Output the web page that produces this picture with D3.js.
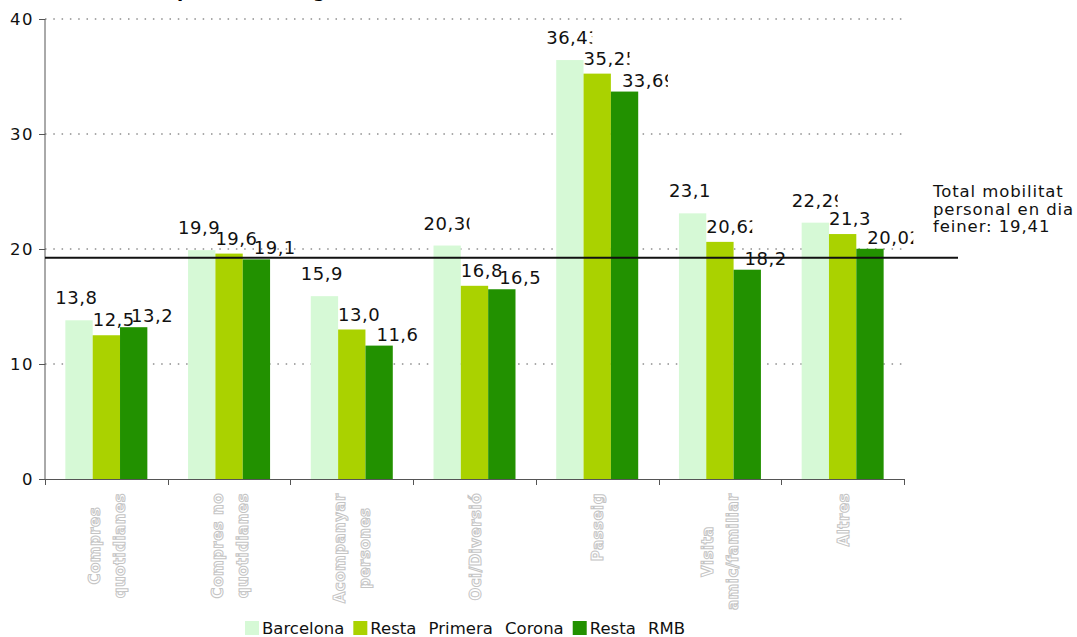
<!DOCTYPE html>
<html>
<head>
<meta charset="utf-8">
<script src="https://cdn.jsdelivr.net/npm/d3@7"></script>
<style>
  html, body { margin: 0; padding: 0; background: #fff; }
  svg { display: block; }
</style>
</head>
<body>
<svg id="chart" width="1077" height="637"></svg>
<script>
// ---------- DATA ----------
const categories = ["Compres quotidianes", "Compres no quotidianes", "Acompanyar persones", "Oci/Diversió", "Passeig", "Visita amic/familiar", "Altres"];
const seriesNames = ["Barcelona", "Resta Primera Corona", "Resta RMB"];
const barcelona = [13.8, 19.9, 15.9, 20.3, 36.43, 23.1, 22.29];
const restaPrimeraCorona = [12.5, 19.6, 13.0, 16.8, 35.25, 20.62, 21.3];
const restaRMB = [13.2, 19.1, 11.6, 16.5, 33.69, 18.2, 20.02];
const labelsBarcelona = ["13,8", "19,9", "15,9", "20,30", "36,43", "23,1", "22,29"];
const labelsRestaPrimeraCorona = ["12,5", "19,6", "13,0", "16,8", "35,25", "20,62", "21,3"];
const labelsRestaRMB = ["13,2", "19,1", "11,6", "16,5", "33,69", "18,2", "20,02"];
const totalMobility = 19.41;
const totalLabel = ["Total mobilitat", "personal en dia", "feiner: 19,41"];
const yTicks = [0, 10, 20, 30, 40];
const titleText = "Temps total segons motiu";

// ---------- STYLE ----------
const colors = ["#d6f9d6", "#aad200", "#229100"];
const labelDx = [-10, 0, 11];
const labelGap = [16, 9, 5];
const FONT = "DejaVu Sans, Verdana, sans-serif";

const svg = d3.select("#chart");
const plotLeft = 45, plotRight = 904, plotTop = 19, plotBottom = 479;

const seriesValues = [barcelona, restaPrimeraCorona, restaRMB];
const seriesLabels = [labelsBarcelona, labelsRestaPrimeraCorona, labelsRestaRMB];

const x0 = d3.scaleBand().domain(categories).range([plotLeft, plotRight]).padding(0);
const x1 = d3.scaleBand().domain(seriesNames).range([0, x0.bandwidth()]).paddingInner(0).paddingOuter(0.745);
const y = d3.scaleLinear().domain([0, 40]).range([plotBottom, plotTop]);

// title (mostly above the top edge: only descenders show)
const title = svg.append("text")
  .attr("x", 0).attr("y", -3)
  .attr("font-family", FONT).attr("font-weight", "bold")
  .attr("font-size", 18).attr("letter-spacing", 0)
  .attr("fill", "#000").text(titleText);
{
  const n = title.node();
  const iP = titleText.indexOf("p"), iG = titleText.indexOf("g");
  const pP = n.getStartPositionOfChar(iP).x, pG = n.getStartPositionOfChar(iG).x;
  const ls = (136 - (pG - pP)) / (iG - iP);
  title.attr("letter-spacing", ls);
  const pP2 = n.getStartPositionOfChar(iP).x;
  title.attr("x", 177 - pP2);
}

// gridlines
svg.append("g").selectAll("line")
  .data(yTicks.filter(d => d > 0))
  .join("line")
  .attr("x1", plotLeft).attr("x2", plotRight)
  .attr("y1", d => y(d)).attr("y2", d => y(d))
  .attr("stroke", "#555").attr("stroke-width", 1)
  .attr("stroke-dasharray", "1.5,6.8");

// bars
const groups = svg.append("g").selectAll("g")
  .data(categories)
  .join("g")
  .attr("transform", d => `translate(${x0(d)},0)`);

groups.selectAll("rect")
  .data((c, i) => seriesNames.map((s, k) => ({ s, k, v: seriesValues[k][i] })))
  .join("rect")
  .attr("x", d => x1(d.s))
  .attr("width", x1.bandwidth())
  .attr("y", d => y(d.v))
  .attr("height", d => y(0) - y(d.v))
  .attr("fill", d => colors[d.k]);

// y axis
const yAxis = d3.axisLeft(y).tickValues(yTicks).tickSize(6).tickPadding(5).tickFormat(d3.format("d"));
const gy = svg.append("g").attr("transform", `translate(${plotLeft},0)`).call(yAxis);
gy.select(".domain").attr("stroke", "#555").attr("d", `M0,${plotTop}V${plotBottom}`);
gy.selectAll(".tick line").attr("stroke", "#555");
gy.selectAll(".tick text")
  .attr("font-family", FONT).attr("font-size", 16.5)
  .attr("letter-spacing", 1.5).attr("fill", "#111").attr("dy", "0.36em");

// x axis
const gx = svg.append("g");
gx.append("line").attr("x1", plotLeft).attr("x2", plotRight)
  .attr("y1", plotBottom + 0.5).attr("y2", plotBottom + 0.5).attr("stroke", "#555");
const boundaries = categories.map(c => x0(c)).concat([x0(categories[categories.length - 1]) + x0.bandwidth()]);
gx.selectAll("line.tk").data(boundaries).join("line").attr("class", "tk")
  .attr("x1", d => Math.round(d) + 0.5).attr("x2", d => Math.round(d) + 0.5)
  .attr("y1", plotBottom).attr("y2", plotBottom + 6).attr("stroke", "#555");

// total reference line
svg.append("line")
  .attr("x1", plotLeft).attr("x2", 958)
  .attr("y1", y(totalMobility) + 2).attr("y2", y(totalMobility) + 2)
  .attr("stroke", "#111").attr("stroke-width", 2);

svg.append("text")
  .attr("font-family", FONT).attr("font-size", 16.5).attr("letter-spacing", 0.9)
  .attr("fill", "#111")
  .selectAll("tspan").data(totalLabel).join("tspan")
  .attr("x", 933).attr("y", (d, i) => 197 + i * 17.5).text(d => d);

// data labels (clipped text boxes)
const defs = svg.append("defs");
let clipId = 0;
groups.each(function (c, i) {
  seriesNames.forEach((s, k) => {
    const v = seriesValues[k][i];
    const bx = x0(c) + x1(s) + labelDx[k];
    const by = y(v) - labelGap[k];
    const id = "clip" + (clipId++);
    defs.append("clipPath").attr("id", id)
      .append("rect").attr("x", bx - 2).attr("y", by - 22)
      .attr("width", 48).attr("height", 28);
    svg.append("text")
      .attr("clip-path", `url(#${id})`)
      .attr("x", bx).attr("y", by)
      .attr("font-family", FONT).attr("font-size", 18).attr("letter-spacing", 0.5)
      .attr("fill", "#111")
      .text(seriesLabels[k][i]);
  });
});

// category labels: rotated, outlined grey, wrapped
const catG = svg.append("g");
const lineH = 25, maxW = 135, labelTopY = 493, catSize = 15;
categories.forEach(c => {
  const cx = x0(c) + x0.bandwidth() / 2;
  const words = c.split(" ");
  const measure = catG.append("text")
    .attr("font-family", FONT).attr("font-weight", "bold").attr("font-size", catSize).attr("letter-spacing", 0.5);
  const lines = [];
  let cur = "";
  words.forEach(w => {
    const test = cur ? cur + " " + w : w;
    measure.text(test);
    if (cur && measure.node().getComputedTextLength() > maxW) { lines.push(cur); cur = w; }
    else cur = test;
  });
  if (cur) lines.push(cur);
  const widths = lines.map(l => { measure.text(l); return measure.node().getComputedTextLength(); });
  measure.remove();
  const L = d3.max(widths);
  lines.forEach((l, i) => {
    const lx = cx + (i - (lines.length - 1) / 2) * lineH + 6;
    const ly = labelTopY + L / 2;
    catG.append("text")
      .attr("transform", `translate(${lx},${ly}) rotate(-90)`)
      .attr("text-anchor", "middle")
      .attr("font-family", FONT).attr("font-weight", "bold").attr("font-size", catSize)
      .attr("letter-spacing", 0.5)
      .attr("fill", "#fff").attr("stroke", "#c4c4c4").attr("stroke-width", 1)
      .text(l);
  });
});

// legend
const legend = svg.append("g");
let legX = 245;
seriesNames.forEach((s, k) => {
  legend.append("rect").attr("x", legX).attr("y", 621).attr("width", 14).attr("height", 14).attr("fill", colors[k]);
  const t = legend.append("text")
    .attr("x", legX + 17).attr("y", 634)
    .attr("font-family", FONT).attr("font-size", 16.5).attr("word-spacing", 7)
    .attr("fill", "#111").text(s);
  legX += 17 + t.node().getComputedTextLength() + 9;
});
</script>
</body>
</html>
